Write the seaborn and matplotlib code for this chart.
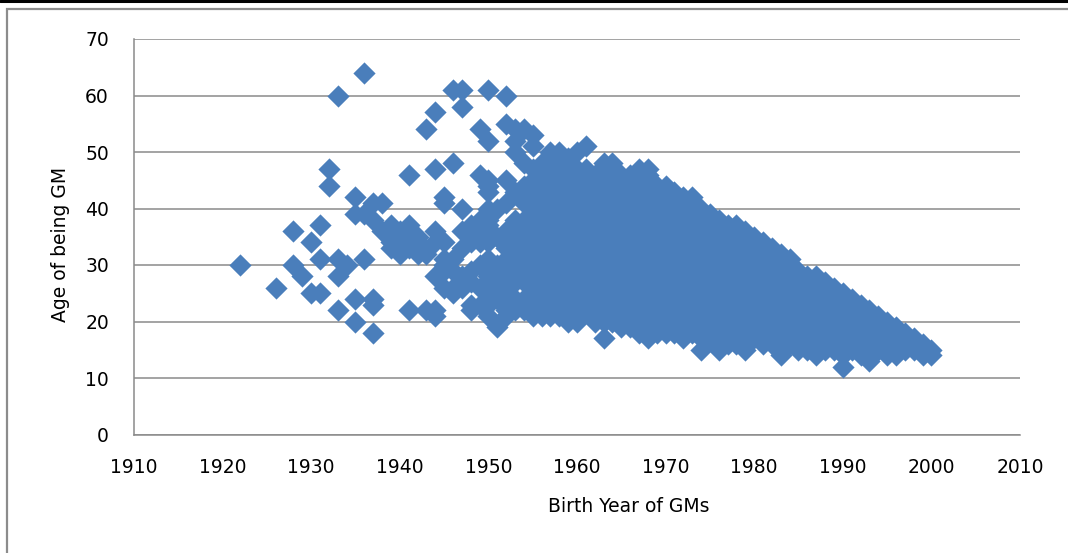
import matplotlib
matplotlib.use("Agg")
import matplotlib.pyplot as plt
import pandas as pd
import seaborn as sns
from matplotlib.lines import Line2D
from matplotlib.patches import Rectangle


# ---------------------------------------------------
# Data
# ---------------------------------------------------

# scattered GMs born before the dense cluster
early_years = [
    1922, 1926, 1928, 1928, 1929, 1930, 1930, 1931, 1931, 1931,
    1932, 1932, 1933, 1933, 1933, 1933, 1934, 1935, 1935, 1935,
    1935, 1936, 1936, 1936, 1937, 1937, 1937, 1937, 1937,
    1938, 1938, 1939, 1939, 1939, 1940, 1940, 1940, 1940,
    1941, 1941, 1941, 1941, 1941, 1942, 1942, 1942, 1943, 1943, 1943,
    1944, 1944, 1944, 1944, 1944, 1944, 1944,
    1945, 1945, 1945, 1945, 1945, 1945, 1945,
    1946, 1946, 1946, 1946, 1946, 1946,
    1947, 1947, 1947, 1947, 1947, 1947, 1947,
    1948, 1948, 1948, 1948, 1948, 1948,
    1949, 1949, 1949, 1949, 1949, 1949, 1949, 1949,
    1950, 1950, 1950, 1950, 1950, 1950, 1950, 1950, 1950, 1950, 1950, 1950, 1950, 1950,
    1951, 1951, 1951, 1951, 1951, 1951,
    1952, 1952, 1952, 1952, 1952, 1952, 1952, 1952, 1952, 1952, 1952, 1952,
    1953, 1953, 1953, 1953, 1953, 1953, 1953, 1953, 1953, 1953, 1953,
    1954, 1954, 1954, 1954, 1954, 1954, 1954, 1954, 1954, 1954, 1954,
    1955, 1955, 1955, 1955, 1955, 1955, 1955, 1955, 1955, 1955, 1955, 1955, 1955, 1955,
]
early_ages = [
    30, 26, 36, 30, 28, 34, 25, 37, 31, 25,
    47, 44, 60, 31, 28, 22, 30, 42, 39, 24,
    20, 64, 39, 31, 41, 38, 24, 23, 18,
    41, 36, 37, 34, 33, 36, 34, 33, 32,
    46, 37, 36, 33, 22, 35, 34, 32, 54, 32, 22,
    57, 47, 36, 34, 28, 22, 21,
    42, 41, 34, 31, 30, 29, 26,
    61, 48, 31, 29, 26, 25,
    61, 58, 40, 36, 33, 28, 26,
    37, 34, 29, 27, 23, 22,
    54, 46, 38, 36, 34, 30, 26, 23,
    61, 52, 45, 44, 43, 40, 38, 37, 34, 31, 28, 25, 23, 21,
    40, 35, 30, 27, 24, 19,
    60, 55, 45, 41, 36, 33, 31, 29, 27, 25, 22, 21,
    54, 52, 50, 43, 38, 35, 32, 29, 27, 24, 22,
    54, 48, 44, 41, 38, 36, 33, 30, 27, 24, 22,
    53, 51, 47, 45, 43, 40, 37, 34, 31, 29, 27, 25, 23, 21,
]

# dense cluster: birth year -> ages at which the GM title was reached
cluster_ages = {
    1956: [21, 22, 23, 24, 25, 26, 27, 28, 29, 30, 31, 32, 33, 34, 35, 36, 37, 38, 39, 40, 41, 42, 43, 44, 47, 48],
    1957: [21, 22, 23, 24, 25, 26, 27, 28, 29, 30, 31, 32, 33, 34, 35, 36, 37, 38, 39, 40, 41, 42, 43, 44, 45, 46, 50],
    1958: [21, 22, 23, 24, 25, 26, 27, 28, 29, 30, 31, 32, 33, 34, 35, 36, 37, 38, 39, 40, 41, 42, 43, 44, 45, 46, 47, 48, 50],
    1959: [20, 21, 22, 23, 24, 25, 26, 27, 28, 29, 30, 31, 32, 33, 34, 35, 36, 37, 38, 39, 40, 41, 42, 43, 44, 45, 46, 47, 49],
    1960: [20, 21, 22, 23, 24, 25, 26, 27, 28, 29, 30, 31, 32, 33, 34, 35, 36, 37, 38, 39, 40, 41, 42, 43, 44, 45, 46, 47, 50],
    1961: [22, 23, 24, 25, 26, 27, 28, 29, 30, 31, 32, 33, 34, 35, 36, 37, 38, 39, 40, 41, 42, 43, 44, 45, 46, 47, 51],
    1962: [20, 21, 22, 23, 24, 25, 26, 27, 28, 29, 30, 31, 32, 33, 34, 35, 36, 37, 38, 39, 40, 41, 42, 43, 44, 45, 46],
    1963: [17, 20, 21, 22, 23, 24, 25, 26, 27, 28, 29, 30, 31, 32, 33, 34, 35, 36, 37, 38, 39, 40, 41, 42, 43, 44, 45, 46, 48],
    1964: [20, 21, 22, 23, 24, 25, 26, 27, 28, 29, 30, 31, 32, 33, 34, 35, 36, 37, 38, 39, 40, 41, 42, 43, 44, 45, 46, 47, 48],
    1965: [19, 20, 21, 22, 23, 24, 25, 26, 27, 28, 29, 30, 31, 32, 33, 34, 35, 36, 37, 38, 39, 40, 41, 42, 43, 44, 45, 46],
    1966: [19, 20, 21, 22, 23, 24, 25, 26, 27, 28, 29, 30, 31, 32, 33, 34, 35, 36, 37, 38, 39, 40, 41, 42, 43, 44, 45, 46],
    1967: [18, 19, 20, 21, 22, 23, 24, 25, 26, 27, 28, 29, 30, 31, 32, 33, 34, 35, 36, 37, 38, 39, 40, 41, 42, 43, 44, 45, 47],
    1968: [17, 18, 19, 20, 21, 22, 23, 24, 25, 26, 27, 28, 29, 30, 31, 32, 33, 34, 35, 36, 37, 38, 39, 40, 41, 42, 43, 44, 45, 46, 47],
    1969: [18, 19, 20, 21, 22, 23, 24, 25, 26, 27, 28, 29, 30, 31, 32, 33, 34, 35, 36, 37, 38, 39, 40, 41, 42, 43, 44],
    1970: [18, 19, 20, 21, 22, 23, 24, 25, 26, 27, 28, 29, 30, 31, 32, 33, 34, 35, 36, 37, 38, 39, 40, 41, 42, 43, 44],
    1971: [18, 19, 20, 21, 22, 23, 24, 25, 26, 27, 28, 29, 30, 31, 32, 33, 34, 35, 36, 37, 38, 39, 40, 41, 42, 43],
    1972: [17, 18, 19, 20, 21, 22, 23, 24, 25, 26, 27, 28, 29, 30, 31, 32, 33, 34, 35, 36, 37, 38, 39, 40, 41, 42],
    1973: [18, 19, 20, 21, 22, 23, 24, 25, 26, 27, 28, 29, 30, 31, 32, 33, 34, 35, 36, 37, 38, 39, 40, 41, 42],
    1974: [15, 17, 18, 19, 20, 21, 22, 23, 24, 25, 26, 27, 28, 29, 30, 31, 32, 33, 34, 35, 36, 37, 38, 39, 40],
    1975: [17, 18, 19, 20, 21, 22, 23, 24, 25, 26, 27, 28, 29, 30, 31, 32, 33, 34, 35, 36, 37, 38, 39],
    1976: [15, 16, 17, 18, 19, 20, 21, 22, 23, 24, 25, 26, 27, 28, 29, 30, 31, 32, 33, 34, 35, 36, 37, 38],
    1977: [16, 17, 18, 19, 20, 21, 22, 23, 24, 25, 26, 27, 28, 29, 30, 31, 32, 33, 34, 35, 36, 37],
    1978: [16, 17, 18, 19, 20, 21, 22, 23, 24, 25, 26, 27, 28, 29, 30, 31, 32, 33, 34, 35, 36, 37],
    1979: [15, 16, 17, 18, 19, 20, 21, 22, 23, 24, 25, 26, 27, 28, 29, 30, 31, 32, 33, 34, 35, 36],
    1980: [17, 18, 19, 20, 21, 22, 23, 24, 25, 26, 27, 28, 29, 30, 31, 32, 33, 34, 35],
    1981: [16, 17, 18, 19, 20, 21, 22, 23, 24, 25, 26, 27, 28, 29, 30, 31, 32, 33, 34],
    1982: [16, 17, 18, 19, 20, 21, 22, 23, 24, 25, 26, 27, 28, 29, 30, 31, 32, 33],
    1983: [14, 15, 16, 17, 18, 19, 20, 21, 22, 23, 24, 25, 26, 27, 28, 29, 30, 31, 32],
    1984: [16, 17, 18, 19, 20, 21, 22, 23, 24, 25, 26, 27, 28, 29, 30, 31],
    1985: [15, 16, 17, 18, 19, 20, 21, 22, 23, 24, 25, 26, 27, 28, 29],
    1986: [15, 16, 17, 18, 19, 20, 21, 22, 23, 24, 25, 26, 27, 28],
    1987: [14, 15, 16, 17, 18, 19, 20, 21, 22, 23, 24, 25, 26, 27, 28],
    1988: [15, 16, 17, 18, 19, 20, 21, 22, 23, 24, 25, 26, 27],
    1989: [15, 16, 17, 18, 19, 20, 21, 22, 23, 24, 25, 26],
    1990: [12, 14, 15, 16, 17, 18, 19, 20, 21, 22, 23, 24, 25],
    1991: [15, 16, 17, 18, 19, 20, 21, 22, 23, 24],
    1992: [14, 15, 16, 17, 18, 19, 20, 21, 22, 23],
    1993: [13, 14, 15, 16, 17, 18, 19, 20, 21, 22],
    1994: [15, 16, 17, 18, 19, 20, 21],
    1995: [14, 15, 16, 17, 18, 19, 20],
    1996: [14, 15, 16, 17, 18, 19],
    1997: [15, 16, 17, 18],
    1998: [15, 16, 17],
    1999: [14, 15, 16],
    2000: [14, 15],
}

x_ticks = [1910, 1920, 1930, 1940, 1950, 1960, 1970, 1980, 1990, 2000, 2010]
y_ticks = [0, 10, 20, 30, 40, 50, 60, 70]


# ---------------------------------------------------
# Build the table
# ---------------------------------------------------

rows = list(zip(early_years, early_ages))
for year, ages in cluster_ages.items():
    rows += [(year, a) for a in ages]

df = pd.DataFrame(rows, columns=["year", "age"])


# ---------------------------------------------------
# Plot
# ---------------------------------------------------

sns.set_style("white")
plt.rcParams["font.family"] = ["DejaVu Sans"]
plt.rcParams["text.color"] = "black"

W, H = 1068, 553
fig = plt.figure(figsize=(W / 100, H / 100), dpi=100)

# plot area in pixels: left 134, right 1020, top 39, bottom 434.5
ax = fig.add_axes([134 / W, 1 - 434.5 / H, 886 / W, 395.5 / H])

grid_color = "#8a8a8a"
blue = "#4a7ebb"

sns.scatterplot(
    data=df,
    x="year",
    y="age",
    marker="D",
    s=128,
    color=blue,
    linewidth=0,
    legend=False,
    ax=ax,
    zorder=3
)

ax.set_xlim(1910, 2010)
ax.set_ylim(0, 70)
ax.set_xticks(x_ticks)
ax.set_yticks(y_ticks)
ax.set_xlabel("")
ax.set_ylabel("")

ax.set_axisbelow(True)
ax.yaxis.grid(True, color=grid_color, linewidth=1.1)
ax.xaxis.grid(False)

for side in ["top", "right"]:
    ax.spines[side].set_visible(False)
for side in ["left", "bottom"]:
    ax.spines[side].set_color(grid_color)
    ax.spines[side].set_linewidth(1.1)

ax.tick_params(axis="y", length=0, pad=18, labelsize=13.5, labelcolor="black")
ax.tick_params(axis="x", length=0, pad=17, labelsize=13.5, labelcolor="black")

fig.text(629 / W, 1 - 507 / H, "Birth Year of GMs",
         ha="center", va="center", fontsize=13.5, color="black")
fig.text(60 / W, 1 - 244 / H, "Age of being GM",
         ha="center", va="center", rotation=90, fontsize=13.5, color="black")

# chart frame (cut off at right and bottom) and the dark bar on top
fig.add_artist(Rectangle((7 / W, -0.1), 1.2, 1.1 - 9 / H,
                         transform=fig.transFigure, fill=False,
                         edgecolor="#8c8c8c", linewidth=1.6))
fig.add_artist(Line2D([0, 1], [1 - 1.2 / H, 1 - 1.2 / H],
                      transform=fig.transFigure, color="black", linewidth=2.2))

fig.savefig("out.png", dpi=100)
